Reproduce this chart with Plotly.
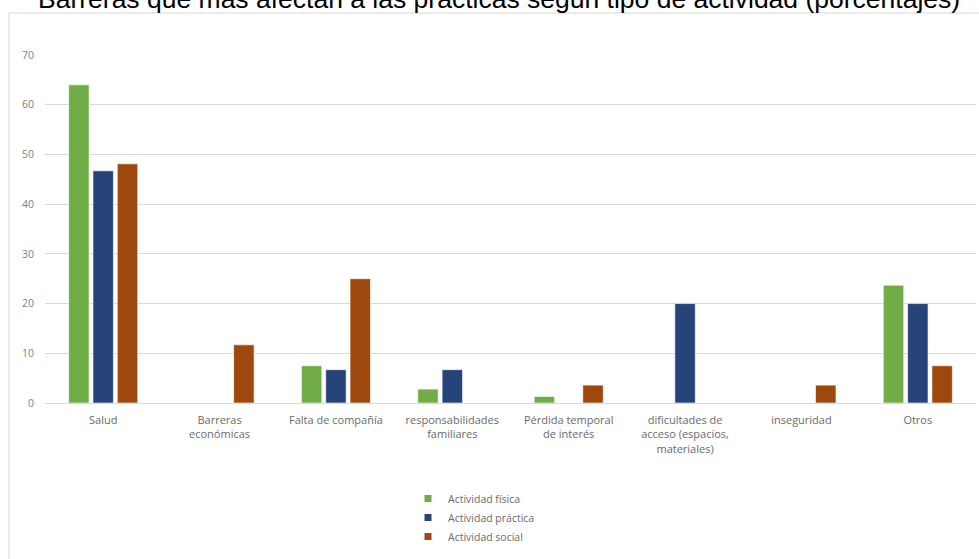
import plotly.graph_objects as go

categories = [
    "Salud",
    "Barreras<br>económicas",
    "Falta de compañía",
    "responsabilidades<br>familiares",
    "Pérdida temporal<br>de interés",
    "dificultades de<br>acceso (espacios,<br>materiales)",
    "inseguridad",
    "Otros",
]
series_names = ["Actividad física", "Actividad práctica", "Actividad social"]
fisica = [64.0, 0, 7.5, 2.8, 1.3, 0, 0, 23.7]
practica = [46.7, 0, 6.7, 6.7, 0, 20.0, 0, 20.0]
social = [48.1, 11.7, 25.0, 0, 3.6, 0, 3.6, 7.5]
colors = ["#70AD47", "#264478", "#9E480E"]
y_ticks = [0, 10, 20, 30, 40, 50, 60, 70]
title_text = "Barreras que más afectan a las prácticas según tipo de actividad (porcentajes)"

W, H = 979, 559
L, R, T, B = 45, 3, 55, 156

fig = go.Figure()
for name, vals, col in zip(series_names, [fisica, practica, social], colors):
    fig.add_trace(go.Bar(
        x=categories, y=vals, name=name,
        marker=dict(color=col, line=dict(color="rgba(255,255,255,0.6)", width=1)),
        showlegend=False,
    ))
# legend entries with small square markers
for name, col in zip(series_names, colors):
    fig.add_trace(go.Scatter(
        x=[None], y=[None], mode="markers", name=name,
        marker=dict(symbol="square", size=7, color=col),
    ))

pw = W - L - R
ph = H - T - B
fig.add_shape(
    type="rect", xref="paper", yref="paper",
    x0=(9 - L) / pw, x1=(W + 5 - L) / pw,
    y0=-(H + 5 - T - ph) / ph, y1=1 + (T - 13) / ph,
    line=dict(color="#d9d9d9", width=1), fillcolor="rgba(0,0,0,0)", layer="below",
)

# title as annotation (partially above the visible page, as in the reference)
fig.add_annotation(
    text=title_text, showarrow=False,
    xref="paper", yref="paper",
    x=(499 - L) / pw, xanchor="center",
    y=1 + (T + 1) / ph, yanchor="middle",
    font=dict(family="Liberation Sans, Arial", size=26.5, color="#000000"),
)

fig.update_layout(
    width=W, height=H,
    margin=dict(l=L, r=R, t=T, b=B, autoexpand=False),
    paper_bgcolor="white", plot_bgcolor="white",
    barmode="group", bargap=0.373, bargroupgap=0.16,
    font=dict(family="Open Sans", size=11, color="#7f7f7f"),
    xaxis=dict(
        showgrid=False, showline=False, ticks="",
        tickfont=dict(family="Open Sans", size=11, color="#6a6a6a"),
        tickangle=0, ticklabelstandoff=9,
    ),
    yaxis=dict(
        range=[0, 70], tickvals=y_ticks,
        showgrid=True, gridcolor="#d9d9d9", gridwidth=1,
        zeroline=True, zerolinecolor="#d9d9d9", zerolinewidth=1,
        showline=False, ticks="", ticklabelstandoff=10,
        tickfont=dict(family="Open Sans", size=10.5, color="#7f7f7f"),
    ),
    legend=dict(
        orientation="v", x=408 / W, xanchor="left", xref="container",
        y=1 - 484 / H, yanchor="top", yref="container",
        font=dict(family="Open Sans", size=10.5, color="#6a6a6a"),
        bgcolor="rgba(0,0,0,0)", itemwidth=30, tracegroupgap=0,
    ),
)

fig.write_html("out.html")
